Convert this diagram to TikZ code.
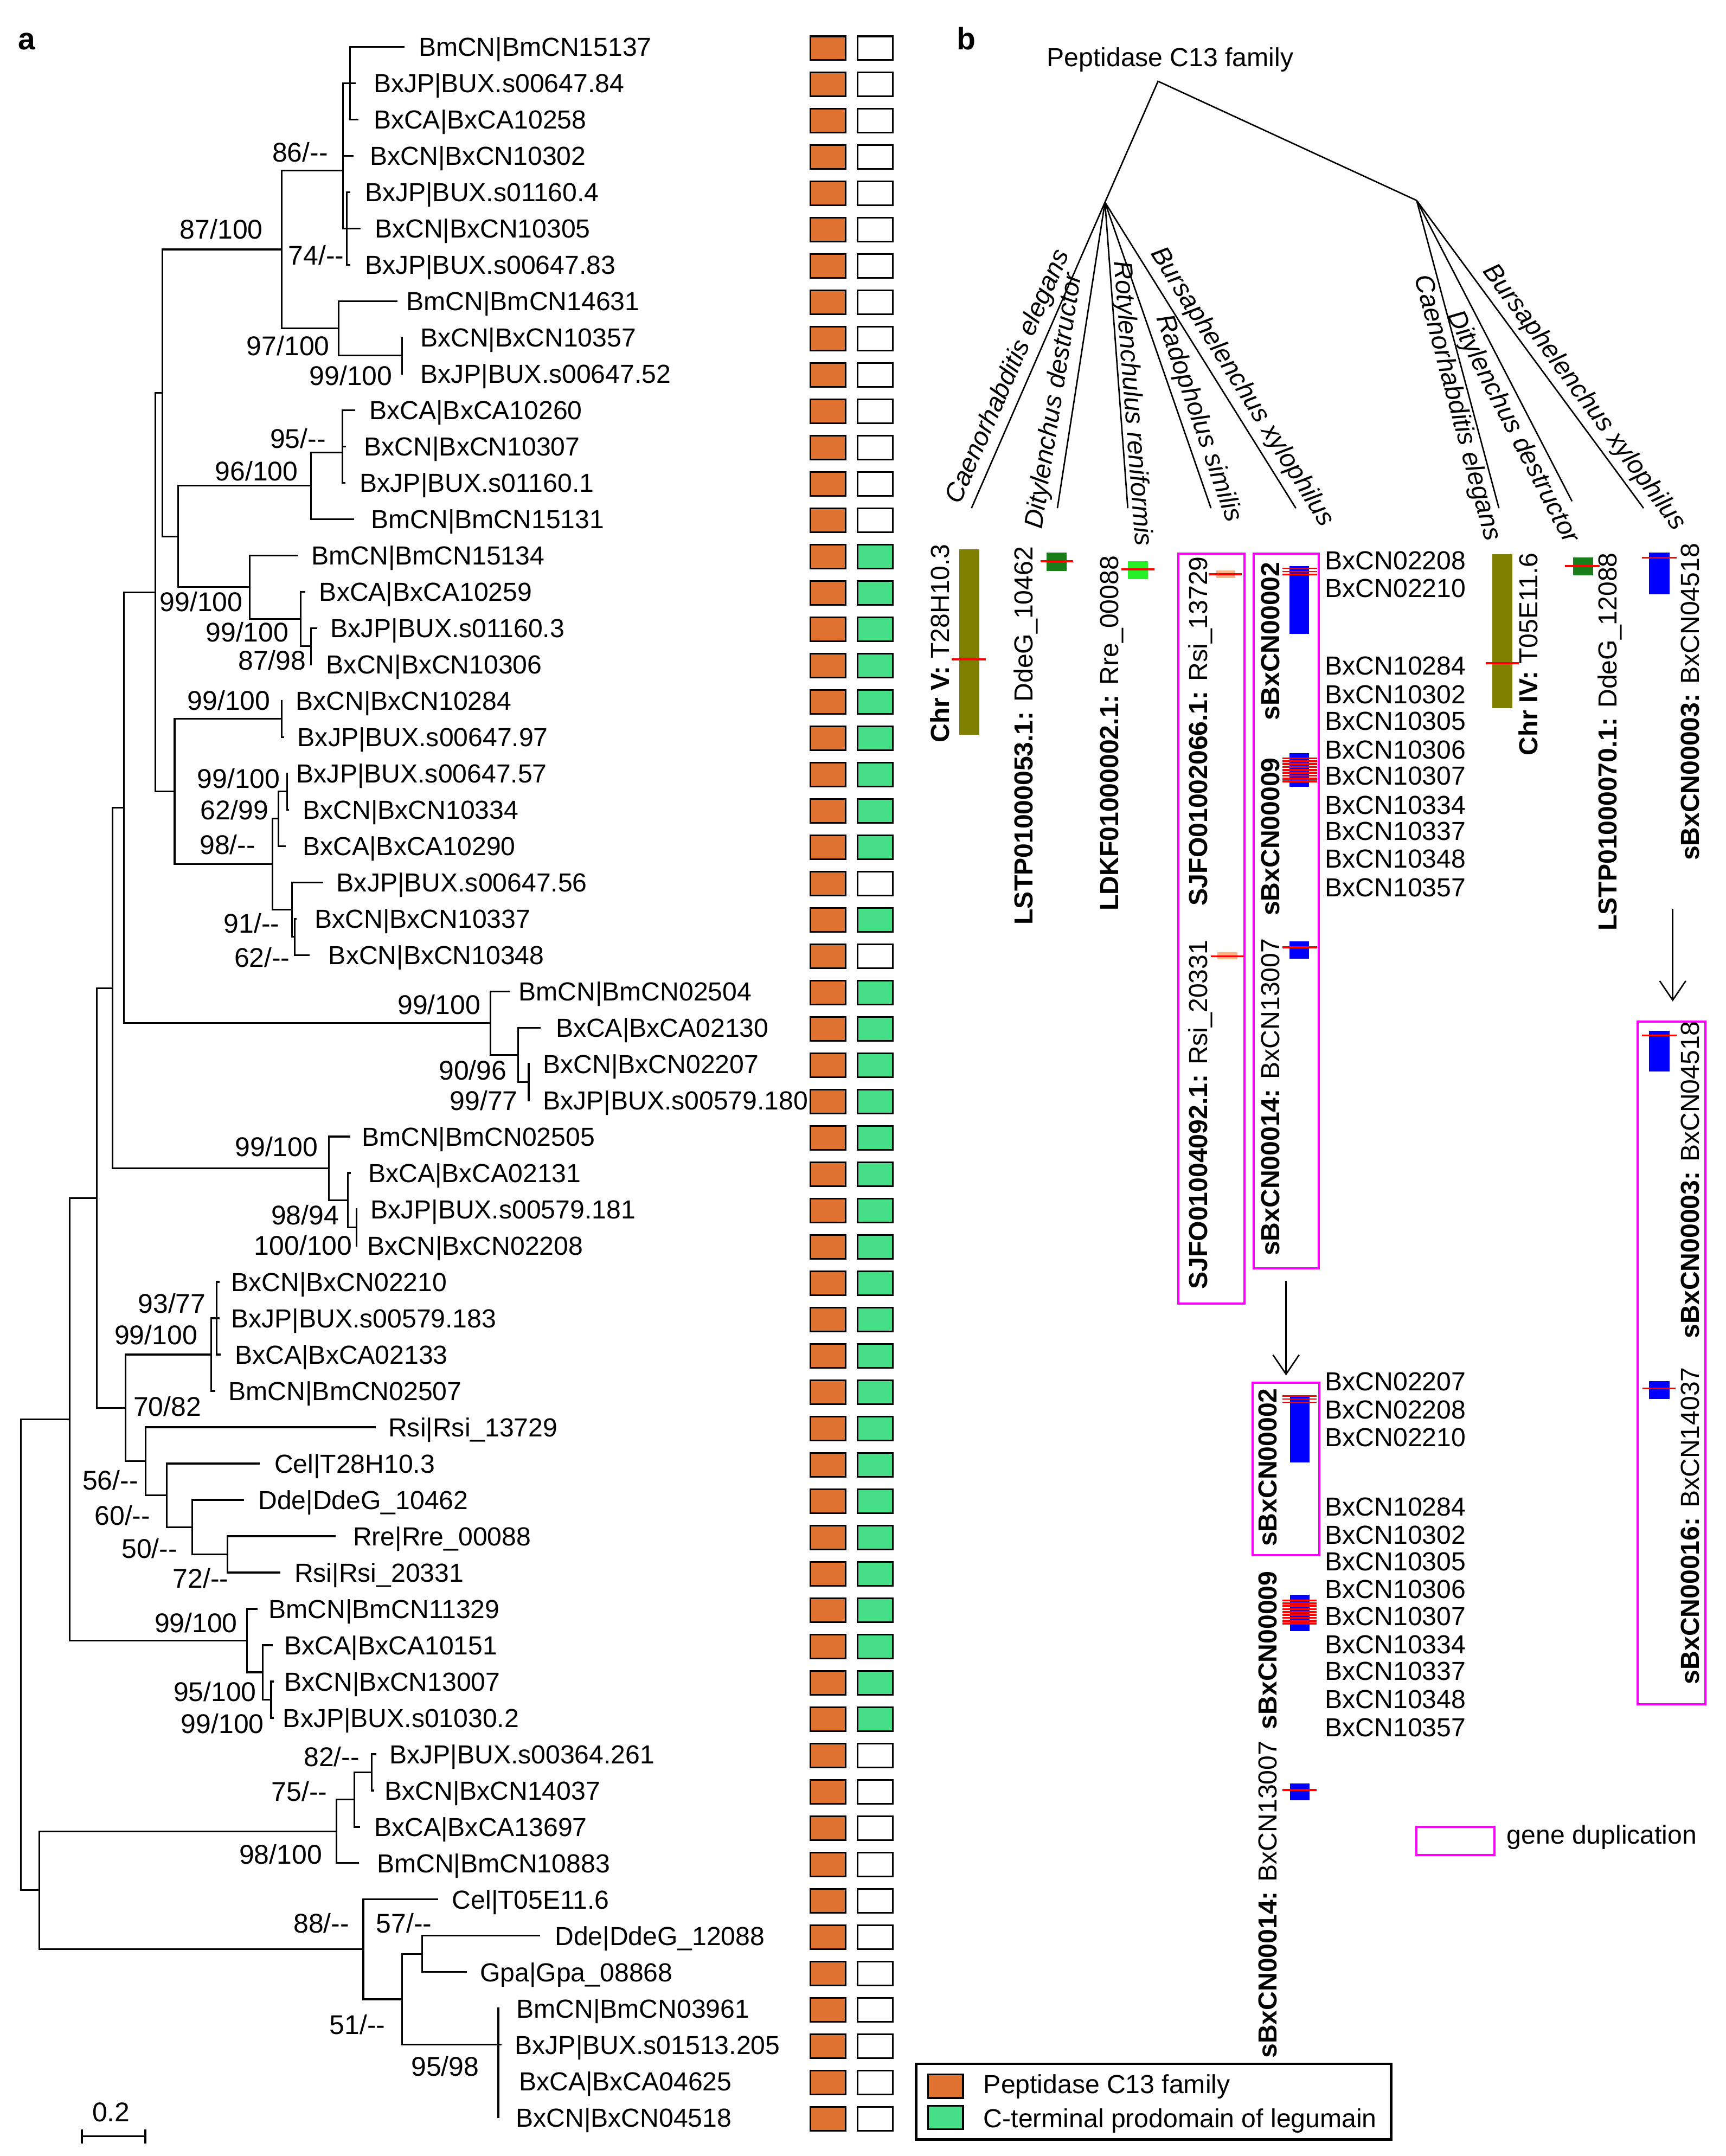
\documentclass[tikz,border=0pt]{standalone}
\usepackage{fontspec}
\setmainfont{Liberation Sans}
\usetikzlibrary{arrows.meta}
\newcommand\fsleaf{\fontsize{10.8pt}{12pt}\selectfont}
\newcommand\fssup{\fontsize{11.2pt}{13pt}\selectfont}
\newcommand\fspanel{\fontsize{12.8pt}{14pt}\selectfont\bfseries}
\newcommand\dd{\mbox{-}\mbox{-}}
\definecolor{orangeC}{RGB}{225,115,50}
\definecolor{greenC}{RGB}{70,222,135}
\definecolor{oliveC}{RGB}{128,128,0}
\definecolor{dgreenC}{RGB}{25,125,25}
\definecolor{lgreenC}{RGB}{40,240,40}
\definecolor{salmonC}{RGB}{250,180,135}
\definecolor{blueC}{RGB}{0,0,255}
\definecolor{redC}{RGB}{255,0,0}
\definecolor{magC}{RGB}{255,0,255}
\begin{document}
\begin{tikzpicture}[x=0.02cm,y=-0.02cm,
  tree/.style={line width=0.7pt, line cap=rect},
  leaf/.style={font=\fsleaf, anchor=base west, inner sep=0pt},
  sup/.style={font=\fssup, anchor=base, inner sep=0pt},
  obox/.style={draw, line width=0.7pt, fill=orangeC, minimum width=0.512cm, minimum height=0.344cm, inner sep=0pt},
  gbox/.style={obox, fill=greenC},
  wbox/.style={obox, fill=white},
  rlab/.style={font=\fsleaf, rotate=90, anchor=base west, inner sep=0pt},
  spec/.style={font=\fsleaf\itshape, inner sep=0pt},
  gene/.style={font=\fsleaf, anchor=base west, inner sep=0pt},
  bline/.style={line width=0.6pt},
  dup/.style={draw=magC, line width=0.9pt},
  redln/.style={draw=redC, line width=0.8pt},
  arr/.style={line width=0.6pt, -{Straight Barb[length=0.28cm,width=0.38cm]}},
]
\fill[white] (0,0) rectangle (1255,1568);
\useasboundingbox (0,0) rectangle (1255,1568);

% ---------- panel labels
\node[font=\fspanel, anchor=base, inner sep=0pt] (pa) at (19.6,36.2) {a};
\node[font=\fspanel, anchor=base, inner sep=0pt] (pb) at (702.6,36.2) {b};

% ---------- leaves, labels and domain boxes
\foreach \i/\tx/\lx/\lab/\g in {
1/293.7/305.5/{BmCN|BmCN15137}/wbox,
2/258/272.8/{BxJP|BUX.s00647.84}/wbox,
3/260/272.8/{BxCA|BxCA10258}/wbox,
4/256.5/270.3/{BxCN|BxCN10302}/wbox,
5/254/266.5/{BxJP|BUX.s01160.4}/wbox,
6/261.5/273.6/{BxCN|BxCN10305}/wbox,
7/254/266.5/{BxJP|BUX.s00647.83}/wbox,
8/288.4/296.7/{BmCN|BmCN14631}/wbox,
9/292.4/306.8/{BxCN|BxCN10357}/wbox,
10/292.4/306.8/{BxJP|BUX.s00647.52}/wbox,
11/257.7/269.8/{BxCA|BxCA10260}/wbox,
12/251/266/{BxCN|BxCN10307}/wbox,
13/250.5/262.8/{BxJP|BUX.s01160.1}/wbox,
14/257/271/{BmCN|BmCN15131}/wbox,
15/216.3/227.6/{BmCN|BmCN15134}/gbox,
16/221.3/233.3/{BxCA|BxCA10259}/gbox,
17/230/241.4/{BxJP|BUX.s01160.3}/gbox,
18/226.3/238.4/{BxCN|BxCN10306}/gbox,
19/205/216.2/{BxCN|BxCN10284}/gbox,
20/206/217.5/{BxJP|BUX.s00647.97}/gbox,
21/208.7/216.7/{BxJP|BUX.s00647.57}/gbox,
22/209.5/221.3/{BxCN|BxCN10334}/gbox,
23/207.4/221.3/{BxCA|BxCA10290}/gbox,
24/234.3/245.9/{BxJP|BUX.s00647.56}/wbox,
25/215/230/{BxCN|BxCN10337}/gbox,
26/224.5/240/{BxCN|BxCN10348}/wbox,
27/370.4/378.3/{BmCN|BmCN02504}/gbox,
28/392.4/405.3/{BxCA|BxCA02130}/gbox,
29/384.5/396/{BxCN|BxCN02207}/gbox,
30/384.5/396/{BxJP|BUX.s00579.180}/gbox,
31/254/264.2/{BmCN|BmCN02505}/gbox,
32/254.5/268.9/{BxCA|BxCA02131}/gbox,
33/259.2/270.5/{BxJP|BUX.s00579.181}/gbox,
34/259.2/268.3/{BxCN|BxCN02208}/gbox,
35/159/169.3/{BxCN|BxCN02210}/gbox,
36/159/169.3/{BxJP|BUX.s00579.183}/gbox,
37/160/172/{BxCA|BxCA02133}/gbox,
38/156/167.4/{BmCN|BmCN02507}/gbox,
39/272.5/283.5/{Rsi|Rsi\_13729}/gbox,
40/188.1/200.6/{Cel|T28H10.3}/gbox,
41/177/188.9/{Dde|DdeG\_10462}/gbox,
42/243.4/257.8/{Rre|Rre\_00088}/gbox,
43/203.3/215.2/{Rsi|Rsi\_20331}/gbox,
44/186.7/196.4/{BmCN|BmCN11329}/gbox,
45/197.8/208/{BxCA|BxCA10151}/gbox,
46/198.5/208/{BxCN|BxCN13007}/gbox,
47/198.5/206.9/{BxJP|BUX.s01030.2}/gbox,
48/273/284.4/{BxJP|BUX.s00364.261}/wbox,
49/271.5/280.8/{BxCN|BxCN14037}/wbox,
50/261.4/273.3/{BxCA|BxCA13697}/wbox,
51/260.6/275.2/{BmCN|BmCN10883}/wbox,
52/317.9/329.9/{Cel|T05E11.6}/wbox,
53/392.1/404.6/{Dde|DdeG\_12088}/wbox,
54/338.9/350.2/{Gpa|Gpa\_08868}/wbox,
55/362.5/376.7/{BmCN|BmCN03961}/wbox,
56/364/375.6/{BxJP|BUX.s01513.205}/wbox,
57/362.5/378.5/{BxCA|BxCA04625}/wbox,
58/362.5/376.3/{BxCN|BxCN04518}/wbox}{
  \pgfmathsetmacro\yy{34+26.42*(\i-1)}
  \coordinate (l\i) at (\tx,\yy);
  \node[leaf] (t\i) at (\lx-1.4,\yy+6.8) {\lab};
  \node[obox] (o\i) at (602.1,\yy+1) {};
  \node[\g] (g\i) at (636.5,\yy+1) {};
}

% ---------- internal nodes
\coordinate (A1) at (254.7,60.4);
\coordinate (B1) at (252.2,166.1);
\coordinate (N86) at (249.5,124);
\coordinate (N99a) at (292.4,258.6);
\coordinate (N97) at (246.4,238.8);
\coordinate (N87) at (205,181.4);
\coordinate (N95) at (249,329);
\coordinate (N96) at (226,353.3);
\coordinate (N226) at (226.3,469.9);
\coordinate (N218) at (218.8,450.1);
\coordinate (N181) at (181.5,427);
\coordinate (Ni) at (129.5,390.2);
\coordinate (Ng) at (118,285.8);
\coordinate (N19) at (205,522.8);
\coordinate (N208) at (208.7,575.6);
\coordinate (N202) at (202.4,595.4);
\coordinate (N215) at (214.5,681.3);
\coordinate (N212) at (212.5,661.5);
\coordinate (N198) at (198,628.5);
\coordinate (Nh) at (127,575.6);
\coordinate (Nf) at (113,430.7);
\coordinate (N384) at (384.5,786.9);
\coordinate (N376) at (376.8,767.1);
\coordinate (N356) at (356.6,744);
\coordinate (Ne) at (90,587.4);
\coordinate (N259) at (259.2,892.6);
\coordinate (N253) at (253,872.8);
\coordinate (N239) at (239.3,849.7);
\coordinate (Nd) at (81.7,718.6);
\coordinate (N157) at (157.7,958.7);
\coordinate (N153) at (153.5,985.1);
\coordinate (N165) at (165.4,1130.4);
\coordinate (N139) at (139.7,1110.6);
\coordinate (N121) at (121.2,1087.5);
\coordinate (N106) at (106,1062.7);
\coordinate (N91) at (91.3,1023.9);
\coordinate (Nc) at (70.5,871.3);
\coordinate (N197) at (197.2,1236.1);
\coordinate (N190) at (190.9,1216.2);
\coordinate (N179) at (179.8,1193.1);
\coordinate (Na) at (50.6,1032.2);
\coordinate (N270) at (270.3,1288.9);
\coordinate (N257) at (257.8,1308.7);
\coordinate (N244) at (244.8,1331.8);
\coordinate (N307) at (307,1421);
\coordinate (N362) at (362.4,1487);
\coordinate (N292) at (292.4,1454);
\coordinate (N264) at (264.2,1417.7);
\coordinate (Nb) at (28.5,1374.7);
\coordinate (Rt) at (15.2,1203.4);

\foreach \p/\c in {A1/l1,A1/l2,A1/l3,B1/l5,B1/l6,B1/l7,N86/A1,N86/l4,N86/B1,
  N99a/l9,N99a/l10,N97/l8,N97/N99a,N87/N86,N87/N97,
  N95/l11,N95/l12,N95/l13,N96/N95,N96/l14,
  N226/l17,N226/l18,N218/l16,N218/N226,N181/l15,N181/N218,Ni/N96,Ni/N181,Ng/N87,Ng/Ni,
  N19/l19,N19/l20,N208/l21,N208/l22,N202/N208,N202/l23,N215/l25,N215/l26,N212/l24,N212/N215,
  N198/N202,N198/N212,Nh/N19,Nh/N198,Nf/Ng,Nf/Nh,
  N384/l29,N384/l30,N376/l28,N376/N384,N356/l27,N356/N376,Ne/Nf,Ne/N356,
  N259/l33,N259/l34,N253/l32,N253/N259,N239/l31,N239/N253,Nd/Ne,Nd/N239,
  N157/l35,N157/l36,N157/l37,N153/N157,N153/l38,
  N165/l42,N165/l43,N139/l41,N139/N165,N121/l40,N121/N139,N106/l39,N106/N121,
  N91/N153,N91/N106,Nc/Nd,Nc/N91,
  N197/l46,N197/l47,N190/l45,N190/N197,N179/l44,N179/N190,Na/Nc,Na/N179,
  N270/l48,N270/l49,N257/N270,N257/l50,N244/N257,N244/l51,
  N307/l53,N307/l54,N362/l55,N362/l56,N362/l57,N362/l58,N292/N307,N292/N362,
  N264/l52,N264/N292,Nb/N244,Nb/N264,Rt/Na,Rt/Nb}
  \draw[tree] (\p) |- (\c);

% ---------- support values
\foreach \k/\cx/\cy/\a/\b in {
1/218.3/110.6/86/\dd, 2/161/166.5/87/100, 3/230/185.6/74/\dd, 4/209.5/251.4/97/100,
5/255.2/272.8/99/100, 6/216.7/318.8/95/\dd, 7/186.6/342.5/96/100, 8/146.3/437.5/99/100,
9/179.8/459.6/99/100, 10/197.9/480.2/87/98, 11/166.5/509.1/99/100, 12/173.5/566.2/99/100,
13/170.5/588.8/62/99, 14/165.5/614/98/\dd, 15/183/671.3/91/\dd, 16/190.6/696/62/\dd,
17/319.3/730.4/99/100, 18/343.8/778.2/90/96, 19/351.9/800.4/99/77, 20/201.1/833.6/99/100,
21/221.9/883.4/98/94, 22/220.5/905.5/100/100, 23/125/947.8/93/77, 24/113.4/970.5/99/100,
25/121.7/1022.5/70/82, 26/80.2/1076.4/56/\dd, 27/89.1/1101.9/60/\dd, 28/108.7/1126/50/\dd,
29/146/1147.5/72/\dd, 30/142.5/1180.1/99/100, 31/156.3/1230.1/95/100, 32/161.8/1253.2/99/100,
33/241.2/1277.5/82/\dd, 34/217.7/1302.7/75/\dd, 35/204.1/1348.4/98/100, 36/233.7/1398.5/88/\dd,
37/293.8/1398.5/57/\dd, 38/260/1472.4/51/\dd, 39/323.7/1502.7/95/98}
  \node[sup] (s\k) at (\cx,\cy+7.2) {\a/\b};

% ---------- scale bar
\coordinate (sb1) at (59.5,1553.5);
\coordinate (sb2) at (105.7,1553.5);
\draw[line width=0.8pt] (sb1) -- (sb2);
\draw[line width=0.8pt] (59.5,1548.5) -- (59.5,1559);
\draw[line width=0.8pt] (105.7,1548.5) -- (105.7,1559);
\node[sup] (sbl) at (80.8,1543) {0.2};

% ---------- legend (panel a)
\draw[line width=1pt] (666.2,1501) rectangle (1011.8,1556);
\node[obox] (lg1) at (687.6,1517.2) {};
\node[gbox] (lg2) at (687.6,1540) {};
\node[leaf] (lt1) at (715,1522.3) {Peptidase C13 family};
\node[leaf] (lt2) at (715,1547.3) {C-terminal prodomain of legumain};

% ---------- panel b tree
\node[font=\fsleaf, anchor=base, inner sep=0pt] (title) at (851,48.3) {Peptidase C13 family};
\coordinate (broot) at (842.2,59.1);
\coordinate (bl) at (803.6,147.1);
\coordinate (br) at (1030.3,145.8);
\coordinate (e1) at (706.5,369.6);
\coordinate (e2) at (769,369.6);
\coordinate (e3) at (820.2,369.6);
\coordinate (e4) at (880.7,369.6);
\coordinate (e5) at (942.4,369.6);
\coordinate (e6) at (1090.1,369.6);
\coordinate (e7) at (1143.3,364.6);
\coordinate (e8) at (1195.3,369.6);
\draw[bline] (bl) -- (broot) -- (br);
\foreach \e in {e1,e2,e3,e4,e5} \draw[bline] (bl) -- (\e);
\foreach \e in {e6,e7,e8} \draw[bline] (br) -- (\e);

\node[spec, rotate=66.4] (sp1) at (733.5,274.1) {Caenorhabditis elegans};
\node[spec, rotate=81.2] (sp2) at (767.2,291.7) {Ditylenchus destructor};
\node[spec, rotate=-85.7] (sp3) at (823,293.5) {Rotylenchulus reniformis};
\node[spec, rotate=-70.9] (sp4) at (871.3,304.3) {Radopholus similis};
\node[spec, rotate=-58.0] (sp5) at (903.1,281.6) {Bursaphelenchus xylophilus};
\node[spec, rotate=-75.0] (sp6) at (1059.3,296.8) {Caenorhabditis elegans};
\node[spec, rotate=-62.7] (sp7) at (1099.7,310.8) {Ditylenchus destructor};
\node[spec, rotate=-53.6] (sp8) at (1151.8,289.2) {Bursaphelenchus xylophilus};

% ---------- panel b chromosomes / scaffolds
\fill[oliveC] (697.6,399.4) rectangle (712.3,534.3);
\draw[redln] (692.2,479.6) -- (716.9,479.6);
\fill[dgreenC] (761.2,402) rectangle (775.9,415.4);
\draw[redln] (756.6,408.2) -- (780.5,408.2);
\fill[lgreenC] (820.2,408.2) rectangle (834.9,421.3);
\draw[redln] (815.6,414) -- (839.5,414);
\fill[salmonC] (884.6,414.7) rectangle (898.5,420.2);
\draw[redln] (879.2,417.6) -- (903.1,417.6);
\fill[salmonC] (885.5,692.6) rectangle (900,697.7);
\draw[redln] (880.5,695.5) -- (904.5,695.5);
\fill[blueC] (937.8,411.8) rectangle (952.1,461);
\foreach \yy in {413.3,415.6,417.9} \draw[redln,line width=0.6pt] (932.8,\yy) -- (957.9,\yy);
\fill[blueC] (937.8,547.8) rectangle (952.1,572.3);
\foreach \k in {0,...,8} \draw[redln] (932.8,551.5+2.1*\k) -- (957.9,551.5+2.1*\k);
\fill[blueC] (937.8,684.6) rectangle (952.1,697.4);
\draw[redln] (932.8,689) -- (957.9,689);
\fill[oliveC] (1085.4,403) rectangle (1099.7,515);
\draw[redln] (1080.4,482.2) -- (1104.7,482.2);
\fill[dgreenC] (1144,405.6) rectangle (1158.7,418.4);
\draw[redln] (1138.3,411.8) -- (1163.3,411.8);
\fill[blueC] (1199.2,402) rectangle (1214.2,432.2);
\draw[redln] (1194.2,405.6) -- (1219.2,405.6);
\fill[blueC] (1199.2,749.5) rectangle (1214.2,779.4);
\draw[redln] (1194.2,753.1) -- (1219.2,753.1);
\fill[blueC] (1199.2,1004.4) rectangle (1214.2,1017.5);
\draw[redln] (1194.6,1009.7) -- (1218.5,1009.7);
\fill[blueC] (938,1014.6) rectangle (952.5,1063.7);
\foreach \yy in {1015.2,1017.5,1019.8} \draw[redln,line width=0.6pt] (932.7,\yy) -- (957.4,\yy);
\fill[blueC] (938,1159.8) rectangle (952.5,1186.4);
\foreach \k in {0,...,8} \draw[redln] (932.7,1164+2.1*\k) -- (957.4,1164+2.1*\k);
\fill[blueC] (938,1296.9) rectangle (952.5,1309.1);
\draw[redln] (932.7,1301.8) -- (957.4,1301.8);

% ---------- gene duplication boxes
\draw[dup] (856.8,402.7) rectangle (905,948);
\draw[dup] (911.6,402.7) rectangle (959,922.4);
\draw[dup] (1191.1,743) rectangle (1240.4,1239.6);
\draw[dup] (911,1005.6) rectangle (959.5,1131.2);
\draw[dup] (1030.1,1328.7) rectangle (1086.8,1349.2);
\node[gene] (gdup) at (1095.5,1341) {gene duplication};

% ---------- rotated labels
\node[rlab] (r1) at (690.2,540.5) {\textbf{Chr V:} T28H10.3};
\node[rlab] (r2) at (751.1,672.9) {\textbf{LSTP01000053.1:} DdeG\_10462};
\node[rlab] (r3) at (813.5,662.7) {\textbf{LDKF01000002.1:} Rre\_00088};
\node[rlab] (r4) at (877.9,659) {\textbf{SJFO01002066.1:} Rsi\_13729};
\node[rlab] (r5) at (877.9,938) {\textbf{SJFO01004092.1:} Rsi\_20331};
\node[rlab] (r6) at (930.3,524.1) {\textbf{sBxCN00002}};
\node[rlab] (r7) at (930.3,666.4) {\textbf{sBxCN00009}};
\node[rlab] (r8) at (930.3,913.6) {\textbf{sBxCN00014:} BxCN13007};
\node[rlab] (r9) at (1118.1,549.7) {\textbf{Chr IV:} T05E11.6};
\node[rlab] (r10) at (1175.9,677.3) {\textbf{LSTP01000070.1:} DdeG\_12088};
\node[rlab] (r11) at (1235.7,626.2) {\textbf{sBxCN00003:} BxCN04518};
\node[rlab] (r12) at (1235.7,973.7) {\textbf{sBxCN00003:} BxCN04518};
\node[rlab] (r13) at (1235.9,1225.3) {\textbf{sBxCN00016:} BxCN14037};
\node[rlab] (r14) at (928.6,1125) {\textbf{sBxCN00002}};
\node[rlab] (r15) at (928.6,1258) {\textbf{sBxCN00009}};
\node[rlab] (r16) at (928.6,1497.2) {\textbf{sBxCN00014:} BxCN13007};

% ---------- gene name lists
\foreach \gn/\yy in {02208/407.4,02210/427.5,10284/484,10302/504.8,10305/524.1,10306/545.3,10307/564.2,10334/585.4,10337/604.4,10348/624.4,10357/645.2}
  \node[gene] (ga\gn) at (963.4,\yy+6.8) {BxCN\gn};
\foreach \gn/\yy in {02207/1004.4,02208/1024.9,02210/1045.3,10284/1095.6,10302/1116,10305/1135.3,10306/1155.7,10307/1175.4,10334/1195.8,10337/1215.1,10348/1235.5,10357/1256}
  \node[gene] (gb\gn) at (963.4,\yy+6.8) {BxCN\gn};

% ---------- arrows
\coordinate (a1s) at (935.3,931.6);
\coordinate (a1e) at (935.3,1000.3);
\coordinate (a2s) at (1216.5,660.9);
\coordinate (a2e) at (1216.5,728.3);
\draw[arr] (a1s) -- (a1e);
\draw[arr] (a2s) -- (a2e);
\end{tikzpicture}
\end{document}
